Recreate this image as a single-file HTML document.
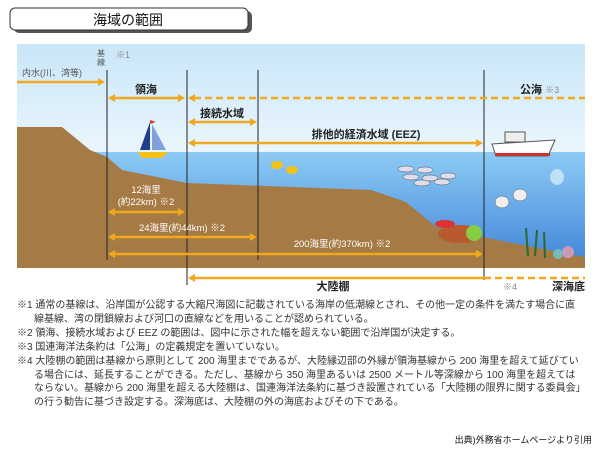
<!DOCTYPE html>
<html><head><meta charset="utf-8"><style>
body{margin:0;width:600px;height:450px;background:#fff;overflow:hidden;font-family:"Liberation Sans","Noto Sans CJK JP",sans-serif}
svg{position:absolute;left:0;top:0}
.n{position:absolute;left:17px;top:299px;width:568px;font-size:10px;line-height:13.9px;color:#333}
.n div{padding-left:17px;text-indent:-17px}
</style></head><body>
<svg width="600" height="450" font-family="Liberation Sans, Noto Sans CJK JP, sans-serif">
<defs>
<linearGradient id="sky" x1="0" y1="0" x2="0" y2="1"><stop offset="0" stop-color="#c9e6f8"/><stop offset="1" stop-color="#eaf6fd"/></linearGradient>
<linearGradient id="sea" x1="0" y1="0" x2="0" y2="1"><stop offset="0" stop-color="#8ccbf5"/><stop offset="1" stop-color="#3f83d8"/></linearGradient>
</defs>
<rect x="14" y="11" width="238" height="22" rx="5" fill="#555"/>
<rect x="10" y="8" width="238" height="22" rx="5" fill="#fff" stroke="#333"/>
<text x="128" y="25" font-size="14" text-anchor="middle" fill="#111">海域の範囲</text>
<rect x="17" y="44" width="568" height="108" fill="url(#sky)"/>
<rect x="17" y="152" width="568" height="116" fill="url(#sea)"/>
<polygon points="17,127 62,127 90,150 107,157 122,170 187,183 371,190 406,202 436,227 497,240 585,257 585,268 17,268" fill="#a67a45"/>
<g stroke="#222" stroke-width="1">
<line x1="107" y1="70" x2="107" y2="260"/><line x1="187" y1="70" x2="187" y2="285"/>
<line x1="258" y1="70" x2="258" y2="260"/><line x1="484" y1="70" x2="484" y2="280"/>
</g>
<g stroke="#f0a81e" stroke-width="2.5" fill="#f0a81e">
<line x1="17" y1="82" x2="100" y2="82"/><polygon points="105,82 98,78 98,86" stroke="none"/>
<line x1="112" y1="98" x2="180" y2="98"/><polygon points="108,98 115,94 115,102" stroke="none"/><polygon points="185,98 178,94 178,102" stroke="none"/>
<line x1="194" y1="98" x2="585" y2="98" stroke-dasharray="7,4"/><polygon points="188,98 195,94 195,102" stroke="none"/>
<line x1="192" y1="122" x2="252" y2="122"/><polygon points="188,122 195,118 195,126" stroke="none"/><polygon points="257,122 250,118 250,126" stroke="none"/>
<line x1="192" y1="143" x2="478" y2="143"/><polygon points="188,143 195,139 195,147" stroke="none"/><polygon points="483,143 476,139 476,147" stroke="none"/>
<line x1="112" y1="212" x2="180" y2="212"/><polygon points="108,212 115,208 115,216" stroke="none"/><polygon points="185,212 178,208 178,216" stroke="none"/>
<line x1="112" y1="237" x2="252" y2="237"/><polygon points="108,237 115,233 115,241" stroke="none"/><polygon points="257,237 250,233 250,241" stroke="none"/>
<line x1="112" y1="254" x2="478" y2="254"/><polygon points="108,254 115,250 115,258" stroke="none"/><polygon points="483,254 476,250 476,258" stroke="none"/>
<line x1="192" y1="278" x2="484" y2="278"/><polygon points="188,278 195,274 195,282" stroke="none"/>
<line x1="484" y1="278" x2="585" y2="278" stroke-dasharray="7,4"/>
</g>
<g font-size="10" fill="#555"><text x="97" y="56" font-size="8">基</text><text x="97" y="65" font-size="8">線</text><text x="116" y="58" font-size="9" fill="#888">※1</text>
<text x="22" y="76" font-size="9">内水(川、湾等)</text></g>
<g font-size="11" font-weight="bold" fill="#222">
<text x="146" y="93" text-anchor="middle">領海</text>
<text x="222" y="117" text-anchor="middle">接続水域</text>
<text x="366" y="138" text-anchor="middle">排他的経済水域 (EEZ)</text>
<text x="520" y="93">公海 <tspan font-weight="normal" fill="#888" font-size="9">※3</tspan></text>
<text x="333" y="290" text-anchor="middle">大陸棚</text>
<text x="552" y="290">深海底</text>
</g>
<text x="503" y="290" font-size="9" fill="#888">※4</text>
<g font-size="9.5" fill="#fff" text-anchor="middle">
<text x="146" y="193">12海里</text><text x="146" y="205">(約22km) ※2</text>
<text x="182" y="231">24海里(約44km) ※2</text>
<text x="342" y="247">200海里(約370km) ※2</text>
</g>
<polygon points="150,122 150,150 140,150" fill="#1f3f8a"/><polygon points="152,124 152,150 166,150" fill="#7fa0d8"/>
<polygon points="138,152 168,152 162,158 142,158" fill="#f4c21a"/>
<polygon points="150,120 156,122 150,124" fill="#d33"/>
<polygon points="492,144 555,140 548,156 496,156" fill="#fff" stroke="#555"/>
<rect x="495" y="153" width="55" height="3" fill="#c33"/>
<rect x="505" y="132" width="20" height="10" fill="#eee" stroke="#555"/>
<ellipse cx="277" cy="165" rx="6" ry="4" fill="#f2c21a"/><ellipse cx="292" cy="170" rx="6" ry="4" fill="#f2c21a"/>
<g fill="#dde" stroke="#555" stroke-width="0.5">
<ellipse cx="406" cy="169" rx="8" ry="3"/><ellipse cx="425" cy="170" rx="8" ry="3"/><ellipse cx="411" cy="177" rx="8" ry="3"/><ellipse cx="430" cy="178" rx="8" ry="3"/><ellipse cx="448" cy="176" rx="8" ry="3"/><ellipse cx="422" cy="183" rx="8" ry="3"/><ellipse cx="442" cy="182" rx="8" ry="3"/>
<ellipse cx="502" cy="202" rx="7" ry="6" fill="#eee"/><ellipse cx="520" cy="195" rx="7" ry="6" fill="#eee"/>
</g>
<ellipse cx="557" cy="177" rx="7" ry="8" fill="#bfe0f5"/>
<ellipse cx="460" cy="234" rx="22" ry="9" fill="#b85a30"/><circle cx="474" cy="233" r="8" fill="#8c4"/>
<ellipse cx="445" cy="224" rx="10" ry="4" fill="#d33"/>
<g stroke="#2a6a2a" stroke-width="2"><line x1="528" y1="256" x2="526" y2="228"/><line x1="535" y1="256" x2="537" y2="230"/><line x1="545" y1="258" x2="544" y2="232"/></g>
<circle cx="568" cy="252" r="6" fill="#c9b"/><circle cx="558" cy="254" r="5" fill="#7bb"/>
<text x="592" y="443" font-size="9" text-anchor="end" fill="#111">出典)外務省ホームページより引用</text>
</svg>
<div class="n">
<div>※1 通常の基線は、沿岸国が公認する大縮尺海図に記載されている海岸の低潮線とされ、その他一定の条件を満たす場合に直線基線、湾の閉鎖線および河口の直線などを用いることが認められている。</div>
<div>※2 領海、接続水域および EEZ の範囲は、図中に示された幅を超えない範囲で沿岸国が決定する。</div>
<div>※3 国連海洋法条約は「公海」の定義規定を置いていない。</div>
<div>※4 大陸棚の範囲は基線から原則として 200 海里までであるが、大陸縁辺部の外縁が領海基線から 200 海里を超えて延びている場合には、延長することができる。ただし、基線から 350 海里あるいは 2500 メートル等深線から 100 海里を超えてはならない。基線から 200 海里を超える大陸棚は、国連海洋法条約に基づき設置されている「大陸棚の限界に関する委員会」の行う勧告に基づき設定する。深海底は、大陸棚の外の海底およびその下である。</div>
</div>
</body></html>
